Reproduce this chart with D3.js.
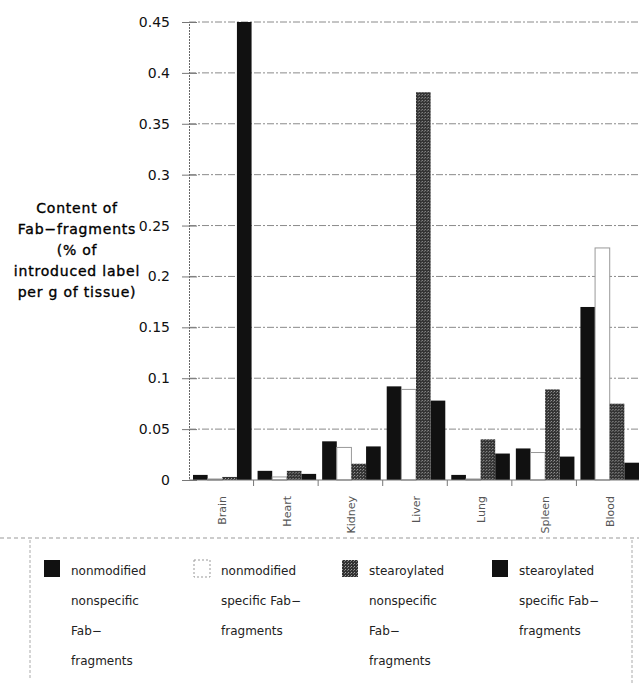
<!DOCTYPE html>
<html>
<head>
<meta charset="utf-8">
<script src="https://cdn.jsdelivr.net/npm/d3@7"></script>
<style>
  body { margin: 0; background: #fff; }
  svg { display: block; font-family: "DejaVu Sans", sans-serif; }
</style>
</head>
<body>
<div id="wrapper"></div>
<script>
const organs = ["Brain", "Heart", "Kidney", "Liver", "Lung", "Spleen", "Blood"];
const seriesNames = [
  "nonmodified nonspecific Fab-fragments",
  "nonmodified specific Fab-fragments",
  "stearoylated nonspecific Fab-fragments",
  "stearoylated specific Fab-fragments"
];
const nonmodNonspecific = [0.005, 0.009, 0.038, 0.092, 0.005, 0.031, 0.170];
const nonmodSpecific    = [0.001, 0.003, 0.032, 0.089, 0.001, 0.027, 0.228];
const stearNonspecific  = [0.003, 0.009, 0.016, 0.381, 0.040, 0.089, 0.075];
const stearSpecific     = [0.450, 0.006, 0.033, 0.078, 0.026, 0.023, 0.017];
const yTicks = [0, 0.05, 0.1, 0.15, 0.2, 0.25, 0.3, 0.35, 0.4, 0.45];
const yTitle = ["Content of", "Fab\u2212fragments", "(% of", "introduced label", "per g of tissue)"];
const legendLines = [
  ["nonmodified", "nonspecific", "Fab\u2212", "fragments"],
  ["nonmodified", "specific Fab\u2212", "fragments"],
  ["stearoylated", "nonspecific", "Fab\u2212", "fragments"],
  ["stearoylated", "specific Fab\u2212", "fragments"]
];

const allSeries = [nonmodNonspecific, nonmodSpecific, stearNonspecific, stearSpecific];

const dimensions = {
  width: 639,
  height: 691,
  margin: { top: 22, right: -2, bottom: 211, left: 189 },
};
dimensions.boundedWidth = dimensions.width - dimensions.margin.left - dimensions.margin.right;
dimensions.boundedHeight = dimensions.height - dimensions.margin.top - dimensions.margin.bottom;

const wrapper = d3.select("#wrapper")
  .append("svg")
  .attr("width", dimensions.width)
  .attr("height", dimensions.height);

const defs = wrapper.append("defs");
const pat = defs.append("pattern")
  .attr("id", "stipple")
  .attr("width", 3)
  .attr("height", 3)
  .attr("patternUnits", "userSpaceOnUse");
pat.append("rect").attr("width", 3).attr("height", 3).attr("fill", "#333");
pat.append("rect").attr("x", 0).attr("y", 0).attr("width", 1).attr("height", 1).attr("fill", "#a0a0a0");
pat.append("rect").attr("x", 2).attr("y", 1).attr("width", 1).attr("height", 1).attr("fill", "#777");

const fills = ["#111", "#fff", "url(#stipple)", "#111"];
const strokes = ["none", "#999", "none", "none"];

const bounds = wrapper.append("g")
  .attr("transform", `translate(${dimensions.margin.left},${dimensions.margin.top})`);

const yScale = d3.scaleLinear()
  .domain([0, 0.45])
  .range([dimensions.boundedHeight, 0]);

const xScale = d3.scaleBand()
  .domain(organs)
  .range([0, dimensions.boundedWidth]);

const innerScale = d3.scaleBand()
  .domain(d3.range(4))
  .range([4, xScale.bandwidth() - 2]);

// gridlines
bounds.append("g")
  .selectAll("line")
  .data(yTicks.filter(d => d > 0))
  .join("line")
  .attr("x1", 0)
  .attr("x2", dimensions.boundedWidth)
  .attr("y1", d => yScale(d))
  .attr("y2", d => yScale(d))
  .attr("stroke", "#8a8a8a")
  .attr("stroke-width", 1)
  .attr("stroke-dasharray", "7,2,2,2");

// y axis
const yAxisGenerator = d3.axisLeft(yScale)
  .tickValues(yTicks)
  .tickFormat(d => d === 0 ? "0" : String(+d.toFixed(2)))
  .tickSize(7)
  .tickPadding(12);
const yAxis = bounds.append("g").call(yAxisGenerator);
yAxis.select(".domain").attr("stroke", "#666").attr("stroke-dasharray", "2,1");
yAxis.selectAll(".tick line").attr("stroke", "#777").attr("x2", 8).attr("x1", -7);
yAxis.selectAll("text")
  .attr("font-size", 14)
  .attr("fill", "#111")
  .attr("font-family", "DejaVu Sans, sans-serif");

// bars
const groups = bounds.append("g")
  .selectAll("g")
  .data(organs)
  .join("g")
  .attr("transform", d => `translate(${xScale(d)},0)`);

groups.selectAll("rect")
  .data((organ, i) => allSeries.map((s, k) => ({ k, v: s[i] })))
  .join("rect")
  .attr("x", d => innerScale(d.k))
  .attr("width", innerScale.bandwidth())
  .attr("y", d => yScale(d.v))
  .attr("height", d => yScale(0) - yScale(d.v))
  .attr("fill", d => fills[d.k])
  .attr("stroke", d => strokes[d.k])
  .attr("stroke-width", 1);

// baseline
bounds.append("line")
  .attr("x1", 0)
  .attr("x2", dimensions.boundedWidth)
  .attr("y1", yScale(0))
  .attr("y2", yScale(0))
  .attr("stroke", "#777");

// x ticks between groups
bounds.append("g")
  .selectAll("line")
  .data(organs.slice(1))
  .join("line")
  .attr("x1", d => xScale(d))
  .attr("x2", d => xScale(d))
  .attr("y1", yScale(0))
  .attr("y2", yScale(0) + 6)
  .attr("stroke", "#777");

// x labels
bounds.append("g")
  .selectAll("text")
  .data(organs)
  .join("text")
  .attr("transform", d => `translate(${xScale(d) + xScale.bandwidth() / 2 + 5},${yScale(0) + 16}) rotate(-90)`)
  .attr("text-anchor", "end")
  .attr("font-size", 11)
  .attr("fill", "#555")
  .text(d => d);

// y title
wrapper.append("text")
  .attr("text-anchor", "middle")
  .attr("font-size", 14)
  .attr("letter-spacing", 0.8)
  .attr("fill", "#000")
  .attr("stroke", "#000")
  .attr("stroke-width", 0.35)
  .selectAll("tspan")
  .data(yTitle)
  .join("tspan")
  .attr("x", 77)
  .attr("y", (d, i) => 213 + i * 21)
  .text(d => d);

// legend frame
wrapper.append("line")
  .attr("x1", 0).attr("x2", 639)
  .attr("y1", 538).attr("y2", 538)
  .attr("stroke", "#999").attr("stroke-dasharray", "4,3");
wrapper.append("line")
  .attr("x1", 30).attr("x2", 30)
  .attr("y1", 540).attr("y2", 680)
  .attr("stroke", "#aaa").attr("stroke-dasharray", "3,2");
wrapper.append("line")
  .attr("x1", 632).attr("x2", 632)
  .attr("y1", 540).attr("y2", 685)
  .attr("stroke", "#aaa").attr("stroke-dasharray", "3,2");

const legendX = [44, 194, 342, 492];
const legend = wrapper.append("g")
  .selectAll("g")
  .data(seriesNames)
  .join("g")
  .attr("transform", (d, i) => `translate(${legendX[i]},560)`);

legend.append("rect")
  .attr("width", 16)
  .attr("height", 17)
  .attr("fill", (d, i) => fills[i])
  .attr("stroke", (d, i) => i === 1 ? "#999" : "none")
  .attr("stroke-dasharray", (d, i) => i === 1 ? "2,2" : null);

legend.append("text")
  .attr("font-size", 12)
  .attr("fill", "#222")
  .selectAll("tspan")
  .data((d, i) => legendLines[i])
  .join("tspan")
  .attr("x", 27)
  .attr("y", (d, j) => 15 + j * 30)
  .text(d => d);
</script>
</body>
</html>
